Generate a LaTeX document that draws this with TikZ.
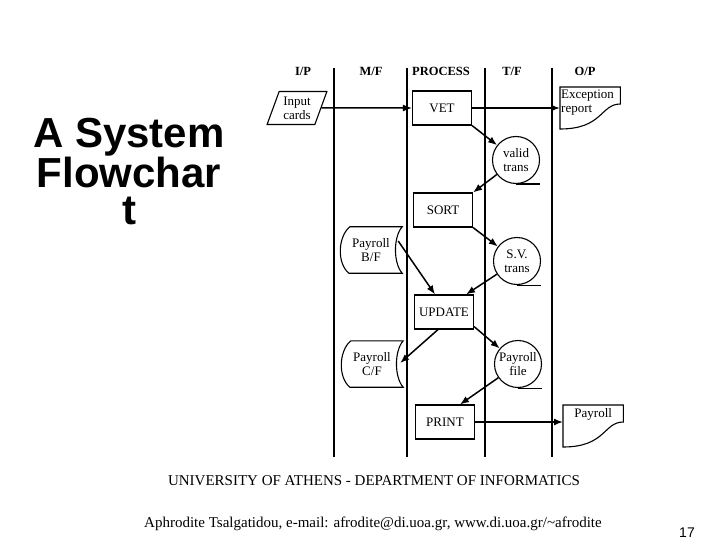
\documentclass[tikz,border=0pt]{standalone}
\usepackage{fontspec}
\setmainfont{Liberation Serif}
\newfontfamily\headsans{Liberation Sans}
\usetikzlibrary{arrows.meta,shapes.geometric}

\begin{document}
\begin{tikzpicture}[
        x=1pt, y=-1pt,
        every node/.style={font=\fontsize{13}{14}\selectfont, align=center, inner sep=1pt},
        col_head/.style={font=\fontsize{12.5}{14}\selectfont\bfseries, anchor=base},
        col_line/.style={line width=1.3pt},
        proc_box/.style={draw, line width=1.1pt, minimum width=59pt, minimum height=34pt},
        in_card/.style={draw, line width=1.1pt, trapezium, trapezium left angle=68,
            trapezium right angle=112, trapezium stretches, minimum width=60pt, minimum height=33pt},
        tape_file/.style={draw, line width=1.1pt, circle, minimum size=47pt, inner sep=0pt},
        disk_file/.style={minimum width=62pt, minimum height=46pt},
        doc_out/.style={anchor=north west, text width=58pt, inner xsep=1pt, inner ysep=3pt},
        flow/.style={-{Latex[length=9pt,width=7pt]}, line width=1.5pt}
    ]
    \useasboundingbox[fill=white] (0,0) rectangle (720,540);

    % title
    \node[font=\headsans\bfseries\fontsize{42}{37}\selectfont, anchor=north, inner sep=0pt]
        (title) at (129,118) {A System\\ Flowchar\\ t};

    % columns
    \foreach \cx in {334,407,485,552}
        \draw[col_line] (\cx,68) -- (\cx,457);
    \node[col_head] (h_ip) at (303,76) {I/P};
    \node[col_head] (h_mf) at (371,76) {M/F};
    \node[col_head] (h_proc) at (441,76) {PROCESS};
    \node[col_head] (h_tf) at (512,76) {T/F};
    \node[col_head] (h_op) at (585,76) {O/P};

    % process steps
    \node[proc_box] (vet) at (442,108) {VET};
    \node[proc_box] (sort) at (443,210) {SORT};
    \node[proc_box] (update) at (444,312) {UPDATE};
    \node[proc_box] (print) at (445,422) {PRINT};

    % files
    \node[in_card] (cards) at (297,108) {Input\\ cards};
    \node[tape_file] (valid) at (516,160) {valid\\ trans};
    \node[tape_file] (sv) at (517,261) {S.V.\\ trans};
    \node[tape_file] (pfile) at (518,364) {Payroll\\ file};
    \node[disk_file] (bf) at (371,250) {Payroll\\ B/F};
    \node[disk_file] (cf) at (372,364) {Payroll\\ C/F};
    \node[doc_out, align=left] (exc) at (560,87) {Exception\\ report};
    \node[doc_out] (payd) at (563,405) {Payroll};

    \foreach \t in {valid,sv,pfile}
        \draw[line width=1.1pt] (\t.south) -- ++(24,0);
    \foreach \s in {bf,cf}
        \draw[line width=1.1pt] ([xshift=10pt]\s.north west) -- (\s.north east)
            .. controls +(-9,10) and +(-9,-10) .. (\s.south east)
            -- ([xshift=9pt]\s.south west)
            .. controls +(-12,-10) and +(-12,10) .. ([xshift=10pt]\s.north west) -- cycle;
    \foreach \d in {exc,payd}
        \draw[line width=1.1pt] ([yshift=-42pt]\d.north west) -- (\d.north west) -- (\d.north east)
            -- ++(0,17) .. controls +(-20,0) and +(43,0) .. ([yshift=-42pt]\d.north west) -- cycle;

    % flows
    \draw[flow] (cards.east) -- (vet.west);
    \draw[flow] (vet.east) -- (vet.east -| exc.west);
    \draw[flow] (vet.south east) -- (valid);
    \draw[flow] (valid) -- (sort.north east);
    \draw[flow] (sort.south east) -- (sv);
    \draw[flow] (sv) -- ([xshift=-8pt]update.north east);
    \draw[flow] ([xshift=-4pt,yshift=9pt]bf.east) -- ([xshift=-9pt]update.north);
    \draw[flow] ([xshift=-6pt]update.south) -- ([xshift=-3pt,yshift=1pt]cf.east);
    \draw[flow] ([yshift=3pt]update.south east) -- (pfile);
    \draw[flow] (pfile) -- ([xshift=15pt]print.north);
    \draw[flow] (print.east) -- (print.east -| payd.west);

    % footer
    \node[font=\fontsize{15}{17}\selectfont, anchor=base] (uni) at (374,485)
        {UNIVERSITY OF ATHENS - DEPARTMENT OF INFORMATICS};
    \node[font=\fontsize{15}{17}\selectfont, anchor=base] (author) at (373,527)
        {Aphrodite Tsalgatidou, e-mail: afrodite@di.uoa.gr, www.di.uoa.gr/\textasciitilde afrodite};
    \node[font=\headsans\fontsize{14}{16}\selectfont, anchor=base] (pgno) at (687,537) {17};
\end{tikzpicture}
\end{document}
